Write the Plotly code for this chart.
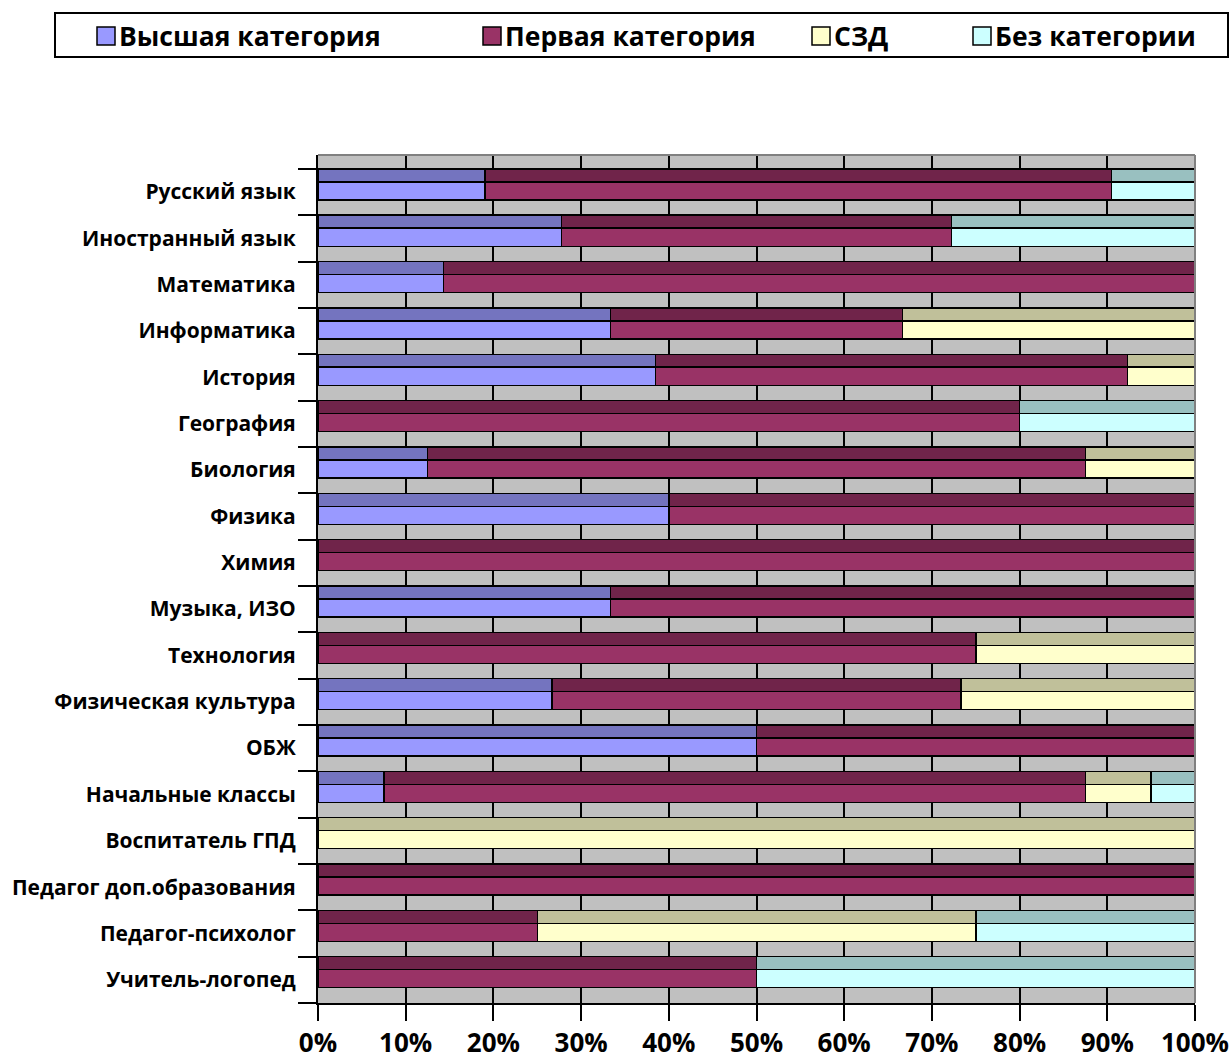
import plotly.graph_objects as go

categories = ["Русский язык", "Иностранный язык", "Математика", "Информатика", "История",
              "География", "Биология", "Физика", "Химия", "Музыка, ИЗО", "Технология",
              "Физическая культура", "ОБЖ", "Начальные классы", "Воспитатель ГПД",
              "Педагог доп.образования", "Педагог-психолог", "Учитель-логопед"]
series_names = ["Высшая категория", "Первая категория", "СЗД", "Без категории"]
vysshaya = [4, 5, 1, 1, 5, 0, 1, 2, 0, 1, 0, 4, 1, 3, 0, 0, 0, 0]
pervaya = [15, 8, 6, 1, 7, 4, 6, 3, 2, 2, 3, 7, 1, 32, 0, 3, 1, 1]
szd = [0, 0, 0, 1, 1, 0, 1, 0, 0, 0, 1, 4, 0, 3, 2, 0, 2, 0]
bez = [2, 5, 0, 0, 0, 1, 0, 0, 0, 0, 0, 0, 0, 2, 0, 0, 1, 1]
x_ticks = [0, 10, 20, 30, 40, 50, 60, 70, 80, 90, 100]
x_tick_labels = ["0%", "10%", "20%", "30%", "40%", "50%", "60%", "70%", "80%", "90%", "100%"]

front_colors = ["#9999FF", "#993366", "#FFFFCC", "#CCFFFF"]
top_colors = ["#7474BF", "#70244A", "#C0C09A", "#99C0C0"]

FONT = "Open Sans"
W, H = 1232, 1059
L, T = 318, 155
R = W - 1195
B = H - 1003
PW, PH = W - L - R, H - T - B

n = len(categories)
top_y = [i + 0.14 for i in range(n)]
front_y = [i + 0.475 for i in range(n)]

fig = go.Figure()
all_series = [vysshaya, pervaya, szd, bez]
for k, vals in enumerate(all_series):
    v = [val if val else None for val in vals]
    fig.add_trace(go.Bar(
        y=top_y, x=v, orientation="h", width=0.28, name=series_names[k],
        marker=dict(color=top_colors[k], line=dict(color="black", width=1.5)),
        showlegend=False, hoverinfo="skip"))
for k, vals in enumerate(all_series):
    v = [val if val else None for val in vals]
    fig.add_trace(go.Bar(
        y=front_y, x=v, orientation="h", width=0.39, name=series_names[k],
        marker=dict(color=front_colors[k], line=dict(color="black", width=1.5)),
        showlegend=False))

# manual legend (pixel -> paper)
def px(xp):
    return (xp - L) / PW

def py(yp):
    return (H - B - yp) / PH

shapes = [dict(type="rect", xref="paper", yref="paper", x0=px(55), x1=px(1228),
               y0=py(57), y1=py(13), line=dict(color="black", width=2), fillcolor="white")]
annotations = []
leg_x = [97, 483, 812, 973]
for k, name in enumerate(series_names):
    x0 = leg_x[k]
    shapes.append(dict(type="rect", xref="paper", yref="paper", x0=px(x0), x1=px(x0 + 18),
                       y0=py(45), y1=py(27), line=dict(color="black", width=1.5),
                       fillcolor=front_colors[k]))
    annotations.append(dict(xref="paper", yref="paper", x=px(x0 + 20), y=py(36),
                            xanchor="left", yanchor="middle", showarrow=False, text=name,
                            font=dict(family=FONT, size=26.5, color="black", weight=700)))

# top and right border of plot area
shapes.append(dict(type="line", xref="paper", yref="paper", x0=0, x1=1, y0=1, y1=1,
                   line=dict(color="#808080", width=2)))
shapes.append(dict(type="line", xref="paper", yref="paper", x0=1, x1=1, y0=0, y1=1,
                   line=dict(color="#808080", width=2)))

fig.update_layout(
    width=W, height=H,
    margin=dict(l=L, r=R, t=T, b=B, pad=0, autoexpand=False),
    barmode="stack", barnorm="percent",
    plot_bgcolor="#C0C0C0", paper_bgcolor="white",
    shapes=shapes, annotations=annotations,
    showlegend=False,
    xaxis=dict(range=[0, 100], tickvals=x_ticks, ticktext=x_tick_labels,
               showgrid=True, gridcolor="black", gridwidth=2,
               showline=True, linecolor="black", linewidth=2,
               ticks="outside", ticklen=16, tickwidth=2, tickcolor="black",
               zeroline=False, ticklabelstandoff=0, automargin=False,
               tickfont=dict(family=FONT, size=26, color="black", weight=700)),
    yaxis=dict(range=[n, -0.3], tickvals=[i + 0.5 for i in range(n)], ticktext=categories,
               ticks="", showgrid=False, zeroline=False,
               showline=True, linecolor="black", linewidth=2,
               ticklabelstandoff=16, automargin=False,
               minor=dict(tick0=0, dtick=1, ticks="outside", ticklen=18, tickwidth=2,
                          tickcolor="black", showgrid=False),
               tickfont=dict(family=FONT, size=21, color="black", weight=700)),
)

fig.write_html("out.html", config={"displayModeBar": False},
               post_script="document.body.style.margin='0px';document.body.style.overflow='hidden';")
